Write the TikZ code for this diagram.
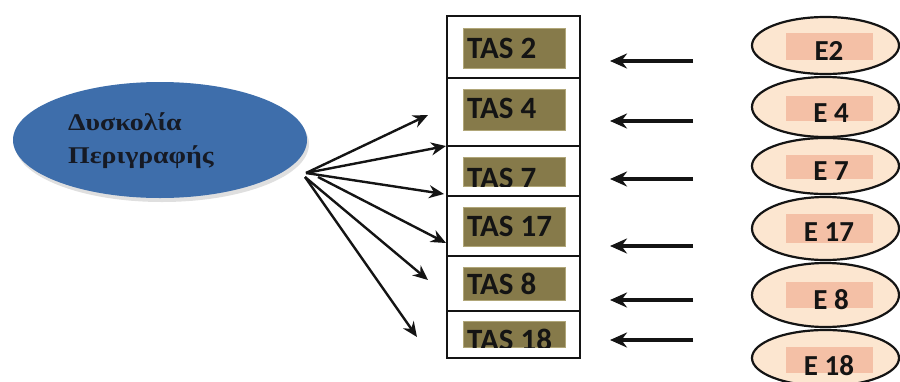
\documentclass[tikz,border=0pt]{standalone}
\usepackage{fontspec}
\usepackage{graphicx}
\usetikzlibrary{shapes.geometric,arrows.meta,shadows}
\newfontfamily\calfont{Carlito}
\newfontfamily\grfont{Liberation Serif}
\definecolor{srcblue}{RGB}{62,110,171}
\definecolor{grtext}{RGB}{22,26,36}
\definecolor{olivefill}{RGB}{134,122,74}
\definecolor{olivedraw}{RGB}{176,166,120}
\definecolor{peach}{RGB}{252,230,208}
\definecolor{salmon}{RGB}{244,192,166}
\definecolor{inkc}{RGB}{20,20,20}
\tikzset{
  cellbox/.style={draw=inkc,line width=2.2pt,rectangle,minimum width=133pt,inner sep=0pt},
  tasbox/.style={draw=olivedraw,line width=1pt,fill=olivefill,rectangle,minimum width=102pt,inner sep=0pt},
  taslabel/.style={font=\calfont\bfseries\fontsize{31}{31}\selectfont,text=inkc,inner sep=0pt,anchor=base west},
  eell/.style={draw=inkc,line width=2.2pt,fill=peach,ellipse,minimum width=147pt,inner sep=0pt},
  erect/.style={fill=salmon,rectangle,minimum width=87pt,inner sep=0pt},
  elabel/.style={font=\calfont\bfseries\fontsize{29}{29}\selectfont,text=inkc,inner sep=0pt,anchor=base},
  grlabel/.style={font=\grfont\bfseries\fontsize{24}{24}\selectfont,text=grtext,inner sep=0pt,anchor=base west},
  larrow/.style={-{Stealth[length=17pt,width=15pt]},line width=3.2pt,draw=inkc},
  darrow/.style={-{Stealth[length=15pt,width=13pt]},line width=2.4pt,draw=inkc},
}
\begin{document}
\begin{tikzpicture}[x=1pt,y=-1pt]
\useasboundingbox (0,0) rectangle (900,381);
\clip (0,0) rectangle (900,381);
% source ellipse
\node[ellipse,fill=srcblue,minimum width=294pt,minimum height=116pt,inner sep=0pt,
      drop shadow={opacity=0.25,shadow xshift=2pt,shadow yshift=-4pt}] (src) at (160,140) {};
\node[grlabel] (g1) at (68,130) {\scalebox{1.16}[1]{Δυσκολία}};
\node[grlabel] (g2) at (68,163) {\scalebox{1.16}[1]{Περιγραφής}};
% cells
\node[cellbox,minimum height=62pt] (c1) at (513.5,47) {};
\node[cellbox,minimum height=68pt] (c2) at (513.5,112) {};
\node[cellbox,minimum height=50pt] (c3) at (513.5,171) {};
\node[cellbox,minimum height=60pt] (c4) at (513.5,226) {};
\node[cellbox,minimum height=55pt] (c5) at (513.5,283.5) {};
\node[cellbox,minimum height=47pt] (c6) at (513.5,334.5) {};
% TAS boxes
\node[tasbox,minimum height=40pt] (t1) at (514,48) {};
\node[tasbox,minimum height=41pt] (t2) at (514,109.5) {};
\node[tasbox,minimum height=29pt] (t3) at (514,171.5) {};
\node[tasbox,minimum height=39pt] (t4) at (514,226.5) {};
\node[tasbox,minimum height=33pt] (t5) at (514,283.5) {};
\node[tasbox,minimum height=26pt] (t6) at (514,334) {};
\begin{scope}\clip (t1.south west) rectangle (t1.north east);
\node[taslabel] (l1) at (467,58) {TAS 2};\end{scope}
\begin{scope}\clip (t2.south west) rectangle (t2.north east);
\node[taslabel] (l2) at (467,118) {TAS 4};\end{scope}
\begin{scope}\clip (t3.south west) rectangle (t3.north east);
\node[taslabel] (l3) at (467,188) {TAS 7};\end{scope}
\begin{scope}\clip (t4.south west) rectangle (t4.north east);
\node[taslabel] (l4) at (467,236) {TAS 17};\end{scope}
\begin{scope}\clip (t5.south west) rectangle (t5.north east);
\node[taslabel] (l5) at (467,294) {TAS 8};\end{scope}
\begin{scope}\clip (t6.south west) rectangle (t6.north east);
\node[taslabel] (l6) at (467,350) {TAS 18};\end{scope}
% E ellipses
\node[eell,minimum height=57pt] (e1) at (825.5,45.5) {};
\node[eell,minimum height=60pt] (e2) at (825.5,107) {};
\node[eell,minimum height=56pt] (e3) at (825.5,166) {};
\node[eell,minimum height=63pt] (e4) at (825.5,228.5) {};
\node[eell,minimum height=64pt] (e5) at (825.5,295) {};
\node[eell,minimum height=56pt] (e6) at (825.5,358) {};
\node[erect,minimum height=27pt] (r1) at (829.5,46.5) {};
\node[erect,minimum height=25pt] (r2) at (829.5,108.5) {};
\node[erect,minimum height=24pt] (r3) at (829.5,167) {};
\node[erect,minimum height=29pt] (r4) at (829.5,228.5) {};
\node[erect,minimum height=26pt] (r5) at (829.5,295) {};
\node[erect,minimum height=26pt] (r6) at (829.5,360) {};
\node[elabel] (n1) at (829,60) {E2};
\node[elabel] (n2) at (831,122) {E 4};
\node[elabel] (n3) at (831,180) {E 7};
\node[elabel] (n4) at (829,241) {E 17};
\node[elabel] (n5) at (831,309) {E 8};
\node[elabel] (n6) at (829,375) {E 18};
% left-pointing arrows
\foreach \i/\y in {1/61,2/121,3/179,4/246,5/300,6/340}{
  \coordinate (p\i) at (693,\y);
  \coordinate (q\i) at (610,\y);
}
\foreach \i in {1,...,6}{\draw[larrow] (p\i) -- (q\i);}
% diagonal arrows from source
\coordinate (s1) at (306,173);
\coordinate (s2) at (318,177);
\coordinate (s3) at (305,177);
\coordinate (d1) at (428,115);
\coordinate (d2) at (446,146);
\coordinate (d3) at (444,194);
\coordinate (d4) at (446,243);
\coordinate (d5) at (428,280);
\coordinate (d6) at (417,337);
\draw[darrow] (s1) -- (d1);
\draw[darrow] (s1) -- (d2);
\draw[darrow] (s1) -- (d3);
\draw[darrow] (s2) -- (d4);
\draw[darrow] (s3) -- (d5);
\draw[darrow] (s3) -- (d6);
\end{tikzpicture}
\end{document}
